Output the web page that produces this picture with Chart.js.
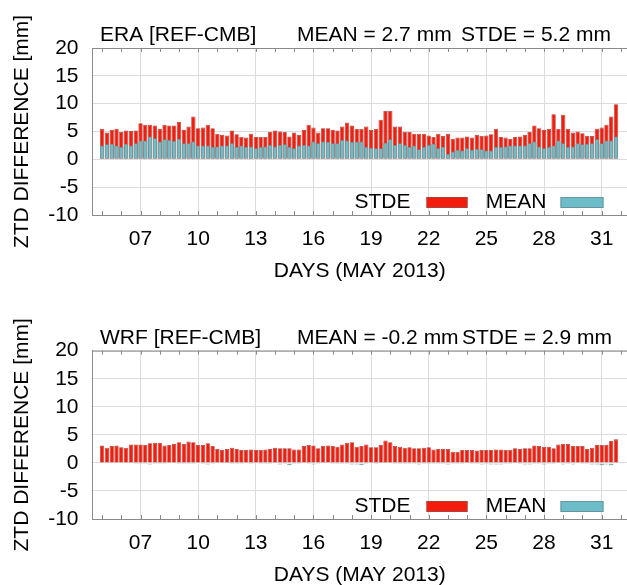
<!DOCTYPE html>
<html>
<head>
<meta charset="utf-8">
<script src="https://cdn.jsdelivr.net/npm/chart.js@4.4.0/dist/chart.umd.min.js"></script>
<style>
  html, body { margin: 0; padding: 0; background: #fff; overflow: hidden; }
  body { width: 627px; height: 585px; position: relative; }
  .panel { position: absolute; left: 0; }
  #top { top: 0; }
  #bottom { top: 300px; }
</style>
</head>
<body>
<div class="panel" id="top"><canvas id="eraChart" width="627" height="292"></canvas></div>
<div class="panel" id="bottom"><canvas id="wrfChart" width="627" height="296"></canvas></div>
<script>
// 6-hourly samples, 5 May 00h .. 31 May 18h
const firstDay = 5
const stepsPerDay = 4

const dayTicks = [7, 10, 13, 16, 19, 22, 25, 28, 31]
const dayLabels = ['07', '10', '13', '16', '19', '22', '25', '28', '31']

const eraStde = [
  5.5, 4.8, 5.3, 5.5, 4.9, 5.2, 5.1, 5.2,
  6.5, 6.2, 6.2, 6.1, 5.5, 6.2, 6.1, 6.1,
  6.7, 5.3, 5.9, 7.7, 5.6, 5.7, 6.2, 5.6,
  4.6, 4.4, 4.3, 5.2, 4.5, 4.0, 3.9, 4.6,
  4.0, 4.0, 4.0, 4.9, 5.2, 5.0, 4.9, 4.1,
  4.8, 4.4, 5.3, 6.2, 5.7, 4.8, 5.6, 5.6,
  5.3, 5.2, 5.9, 6.6, 6.1, 5.5, 5.5, 5.9,
  5.3, 5.5, 7.1, 8.7, 8.7, 5.9, 5.9, 4.9,
  4.9, 4.6, 4.6, 4.6, 4.3, 4.0, 4.6, 4.2,
  4.6, 3.7, 3.9, 3.9, 4.1, 3.9, 4.4, 4.2,
  4.3, 4.5, 5.5, 4.0, 3.9, 3.7, 4.0, 4.1,
  4.4, 4.9, 6.1, 5.6, 5.3, 5.5, 8.1, 5.5,
  8.0, 5.5, 4.8, 5.0, 4.7, 4.2, 4.2, 5.5,
  5.7, 6.2, 7.7, 9.9
]
const eraMean = [
  2.5, 2.7, 2.8, 2.5, 2.2, 2.8, 2.5, 2.9,
  3.4, 3.4, 4.1, 3.8, 3.2, 3.6, 3.5, 3.3,
  3.7, 2.9, 2.9, 3.2, 2.5, 2.5, 2.5, 2.2,
  2.3, 2.5, 2.5, 2.9, 2.2, 2.5, 2.2, 2.3,
  2.0, 2.2, 2.3, 2.6, 2.3, 2.6, 2.7, 2.2,
  2.0, 2.5, 2.6, 2.5, 3.2, 2.9, 3.2, 3.1,
  2.9, 2.9, 3.5, 3.4, 3.1, 3.2, 3.2, 2.2,
  2.1, 2.0, 2.0, 3.0, 3.6, 2.6, 2.9, 2.6,
  2.2, 2.5, 1.8, 2.2, 2.6, 2.8, 2.0, 2.2,
  1.0, 1.4, 1.7, 1.6, 2.0, 1.7, 1.9, 1.8,
  1.6, 1.6, 2.2, 2.2, 2.3, 2.5, 2.5, 2.5,
  2.5, 2.9, 3.2, 2.3, 2.0, 2.2, 2.5, 3.4,
  2.9, 2.2, 2.3, 2.9, 2.7, 2.8, 2.9, 3.6,
  2.9, 3.4, 3.4, 4.1
]
const wrfStde = [
  3.1, 2.7, 3.0, 3.1, 2.8, 2.7, 3.3, 3.3,
  3.3, 3.2, 3.5, 3.6, 3.6, 3.1, 3.2, 3.4,
  3.7, 3.4, 3.8, 3.7, 3.2, 3.2, 3.5, 3.0,
  2.5, 2.3, 2.5, 2.7, 2.5, 2.3, 2.3, 2.4,
  2.3, 2.3, 2.4, 2.5, 2.7, 2.6, 2.6, 2.6,
  2.4, 2.4, 3.0, 3.2, 3.1, 2.6, 3.0, 3.1,
  3.0, 2.9, 3.3, 3.6, 3.7, 2.9, 3.0, 3.3,
  2.8, 2.8, 3.2, 4.0, 3.7, 3.0, 2.9, 2.7,
  2.8, 2.6, 2.6, 2.7, 2.8, 2.4, 2.5, 2.5,
  2.5, 2.0, 2.0, 2.3, 2.3, 2.3, 2.2, 2.3,
  2.3, 2.3, 2.4, 2.4, 2.3, 2.3, 2.6, 2.5,
  2.6, 2.6, 3.1, 3.0, 2.9, 2.9, 2.6, 3.3,
  3.4, 3.4, 3.0, 3.0, 3.0, 2.5, 2.7, 3.2,
  3.2, 3.2, 3.9, 4.2
]
const wrfMean = [
  0.1, -0.1, -0.1, -0.1, 0.0, 0.1, -0.1, -0.2,
  -0.2, -0.2, -0.3, -0.2, -0.2, -0.2, -0.1, 0.1,
  -0.2, -0.2, -0.2, -0.2, 0.1, -0.2, -0.3, -0.2,
  0.0, 0.1, 0.1, -0.2, -0.2, -0.2, -0.1, -0.2,
  -0.1, -0.2, -0.2, -0.2, -0.1, -0.3, -0.2, -0.4,
  -0.2, -0.2, -0.1, -0.2, -0.3, -0.2, -0.1, 0.0,
  -0.2, -0.2, -0.2, -0.2, -0.3, -0.3, -0.4, -0.2,
  -0.1, -0.2, 0.1, 0.1, -0.1, -0.2, -0.2, -0.2,
  -0.2, -0.2, -0.3, -0.2, -0.2, -0.2, -0.2, -0.2,
  -0.3, -0.2, -0.2, -0.2, -0.1, -0.2, -0.2, -0.3,
  -0.2, -0.3, -0.3, -0.3, -0.2, -0.2, -0.1, -0.2,
  -0.3, -0.3, -0.2, -0.2, -0.3, -0.2, -0.2, -0.1,
  -0.3, -0.2, -0.3, -0.1, -0.2, -0.2, -0.3, -0.3,
  -0.4, -0.3, -0.4, 0.1
]

const font = { family: "'Liberation Sans', Arial, sans-serif", size: 21 }
const fontStr = "21px 'Liberation Sans', Arial, sans-serif"
const red = '#f41c0c'
const redEdge = '#a8443c'
const cyan = '#6dbdc8'
const cyanEdge = '#66959b'
const frameColor = '#8a8a8a'
const gridColor = '#dcdcdc'

const toPoints = arr => arr.map((v, i) => ({ x: firstDay + i / stepsPerDay, y: v }))

// header texts, top frame line, day ticks and the legend
const panelDecor = {
  id: 'panelDecor',
  afterDraw(chart, args, opts) {
    const { ctx, chartArea: a, scales: { x } } = chart
    ctx.save()
    ctx.strokeStyle = frameColor
    ctx.lineWidth = 1
    ctx.beginPath()
    ctx.moveTo(a.left, a.top + 0.5)
    ctx.lineTo(a.right, a.top + 0.5)
    for (let d = firstDay; d <= 32; d++) {
      const px = Math.round(x.getPixelForValue(d)) + 0.5
      ctx.moveTo(px, a.top)
      ctx.lineTo(px, a.top + 4)
      ctx.moveTo(px, a.bottom)
      ctx.lineTo(px, a.bottom - 4)
    }
    ctx.stroke()

    ctx.fillStyle = '#000'
    ctx.font = fontStr
    ctx.textBaseline = 'alphabetic'
    ctx.textAlign = 'left'
    opts.header.forEach(h => ctx.fillText(h.text, h.x, a.top - 7))

    // legend
    const ly = a.bottom - 18
    ctx.textAlign = 'right'
    ctx.textBaseline = 'middle'
    ctx.fillText('STDE', a.left + 318, ly + 5)
    ctx.fillText('MEAN', a.left + 454, ly + 5)
    ctx.fillStyle = red
    ctx.strokeStyle = redEdge
    ctx.fillRect(a.left + 334, ly, 41, 11)
    ctx.strokeRect(a.left + 334.5, ly + 0.5, 40, 10)
    ctx.fillStyle = cyan
    ctx.strokeStyle = cyanEdge
    ctx.fillRect(a.left + 468, ly, 43, 11)
    ctx.strokeRect(a.left + 468.5, ly + 0.5, 42, 10)
    ctx.restore()
  }
}

function makeChart(id, stde, mean, header, padTop) {
  return new Chart(document.getElementById(id), {
    type: 'bar',
    data: {
      datasets: [
        { label: 'MEAN', data: toPoints(mean), backgroundColor: cyan, borderColor: cyanEdge, borderWidth: 0.8 },
        { label: 'STDE', data: toPoints(stde), backgroundColor: red, borderColor: redEdge, borderWidth: 0.8 }
      ]
    },
    options: {
      responsive: false,
      animation: false,
      layout: { padding: { top: padTop, left: 0, right: 0, bottom: 0 } },
      datasets: { bar: { grouped: false, barPercentage: 0.9, categoryPercentage: 1 } },
      plugins: {
        legend: { display: false },
        tooltip: { enabled: false },
        panelDecor: { header }
      },
      scales: {
        x: {
          type: 'linear',
          offset: false,
          min: 4.5,
          max: 32.32,
          afterBuildTicks: s => { s.ticks = dayTicks.map(v => ({ value: v })) },
          afterFit: s => { s.height = 77 },
          ticks: { callback: (v, i) => dayLabels[i], font, color: '#000', padding: 12, maxRotation: 0, autoSkip: false },
          grid: { color: gridColor, drawTicks: false, offset: false },
          border: { color: frameColor },
          title: { display: true, text: 'DAYS (MAY 2013)', font, color: '#000', padding: 8 }
        },
        y: {
          min: -10,
          max: 20,
          afterFit: s => { s.width = 92.5 },
          ticks: { stepSize: 5, font, color: '#000', padding: 14, autoSkip: false },
          grid: { color: gridColor, drawTicks: false },
          border: { color: frameColor },
          title: { display: true, text: 'ZTD DIFFERENCE [mm]', font, color: '#000', padding: 10 }
        }
      }
    },
    plugins: [panelDecor]
  })
}

makeChart('eraChart', eraStde, eraMean, [
  { text: 'ERA [REF-CMB]', x: 100 },
  { text: 'MEAN = 2.7 mm', x: 297 },
  { text: 'STDE = 5.2 mm', x: 461 }
], 48)

makeChart('wrfChart', wrfStde, wrfMean, [
  { text: 'WRF [REF-CMB]', x: 100 },
  { text: 'MEAN = -0.2 mm', x: 297 },
  { text: 'STDE = 2.9 mm', x: 462 }
], 50.7)
</script>
</body>
</html>
